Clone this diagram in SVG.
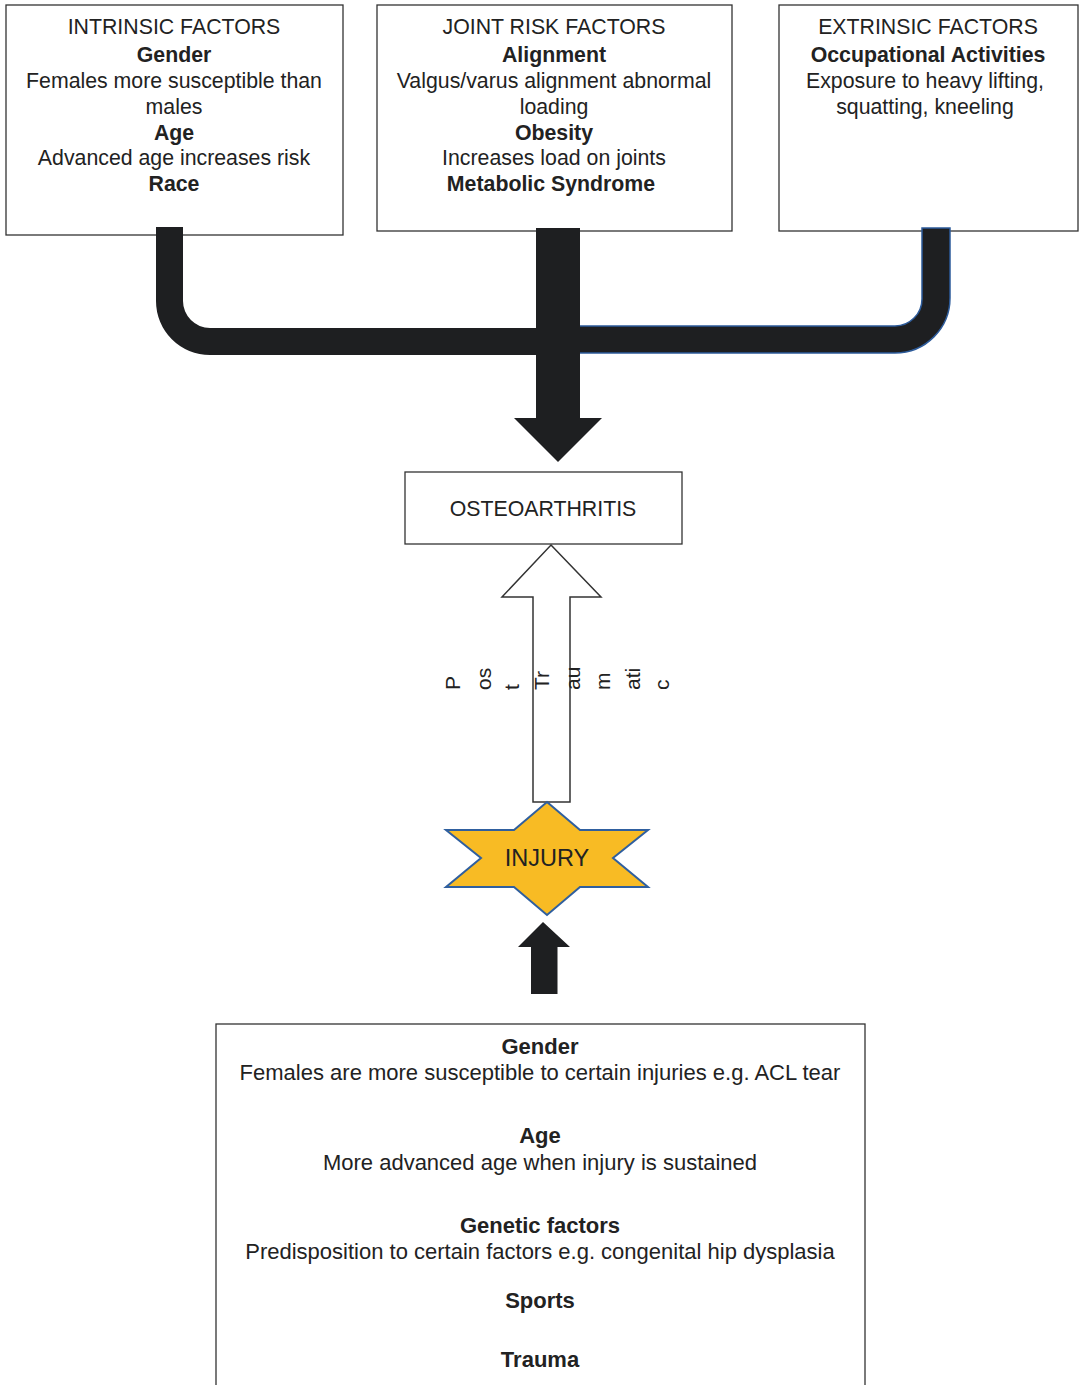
<svg xmlns="http://www.w3.org/2000/svg" width="1080" height="1385" viewBox="0 0 1080 1385">
<style>
.box{fill:#fff;stroke:#333;stroke-width:1.3}
text{font-family:"Liberation Sans",Arial,sans-serif;font-size:21.3px;fill:#222;text-anchor:middle}
.b{font-weight:bold}
.rot{text-anchor:start;font-size:21px}
.lg{font-size:22px}
.conn{fill:#1e1f21}
</style>
<g id="intrinsic">
<rect class="box" x="6" y="5" width="337" height="230"/>
<text x="174" y="34">INTRINSIC FACTORS</text>
<text x="174" y="62" class="b">Gender</text>
<text x="174" y="88">Females more susceptible than</text>
<text x="174" y="114">males</text>
<text x="174" y="139.5" class="b">Age</text>
<text x="174" y="165">Advanced age increases risk</text>
<text x="174" y="191" class="b">Race</text>
</g>
<g id="joint">
<rect class="box" x="377" y="5" width="355" height="226"/>
<text x="554" y="34">JOINT RISK FACTORS</text>
<text x="554" y="62" class="b">Alignment</text>
<text x="554" y="88">Valgus/varus alignment abnormal</text>
<text x="554" y="114">loading</text>
<text x="554" y="139.5" class="b">Obesity</text>
<text x="554" y="165">Increases load on joints</text>
<text x="551" y="191" class="b">Metabolic Syndrome</text>
</g>
<g id="extrinsic">
<rect class="box" x="779" y="5" width="299" height="226"/>
<text x="928" y="34">EXTRINSIC FACTORS</text>
<text x="928" y="62" class="b">Occupational Activities</text>
<text x="925" y="88">Exposure to heavy lifting,</text>
<text x="925" y="114">squatting, kneeling</text>
</g>
<g id="connectors">
<path class="conn" d="M156,227 L183,227 L183,301 A27,27 0 0 0 210,328 L540,328 L540,355 L210,355 A54,54 0 0 1 156,301 Z"/>
<path class="conn" d="M950,228 L922,228 L922,299 A27,27 0 0 1 895,326 L576,326 L576,353 L895,353 A55,55 0 0 0 950,298 Z" stroke="#2d5b9a" stroke-width="1.5"/>
<polygon class="conn" points="536,228 580,228 580,418 602,418 558,462 514,418 536,418"/>
<polygon points="551,545 601,597 570,597 570,802 533,802 533,597 502,597" fill="#fff" stroke="#333" stroke-width="1.5"/>
<polygon class="conn" points="543,922 570,947 557.5,947 557.5,994 531,994 531,947 518,947"/>
</g>
<g id="post-traumatic-label">
<text class="rot" transform="translate(460,690) rotate(-90)">P</text>
<text class="rot" transform="translate(491,690) rotate(-90)">os</text>
<text class="rot" transform="translate(519,690) rotate(-90)">t</text>
<text class="rot" transform="translate(549,690) rotate(-90)">Tr</text>
<text class="rot" transform="translate(580,690) rotate(-90)">au</text>
<text class="rot" transform="translate(610,690) rotate(-90)">m</text>
<text class="rot" transform="translate(640,690) rotate(-90)">ati</text>
<text class="rot" transform="translate(669,690) rotate(-90)">c</text>
</g>
<g id="osteoarthritis">
<rect class="box" x="405" y="472" width="277" height="72"/>
<text x="543" y="515.5">OSTEOARTHRITIS</text>
</g>
<g id="injury">
<polygon points="547,802 580,830 648,830 613,858 648,887 580,887 547,915 514,887 446,887 481,858 446,830 514,830" fill="#f8bb24" stroke="#2f5f9f" stroke-width="2"/>
<text x="547" y="866" style="font-size:23.5px">INJURY</text>
</g>
<g id="injury-factors">
<rect class="box" x="216" y="1024" width="649" height="400"/>
<text x="540" y="1054" class="b lg">Gender</text>
<text x="540" y="1080" class="lg">Females are more susceptible to certain injuries e.g. ACL tear</text>
<text x="540" y="1143" class="b lg">Age</text>
<text x="540" y="1170" class="lg">More advanced age when injury is sustained</text>
<text x="540" y="1233" class="b lg">Genetic factors</text>
<text x="540" y="1259" class="lg">Predisposition to certain factors e.g. congenital hip dysplasia</text>
<text x="540" y="1308" class="b lg">Sports</text>
<text x="540" y="1367" class="b lg">Trauma</text>
</g>
</svg>
